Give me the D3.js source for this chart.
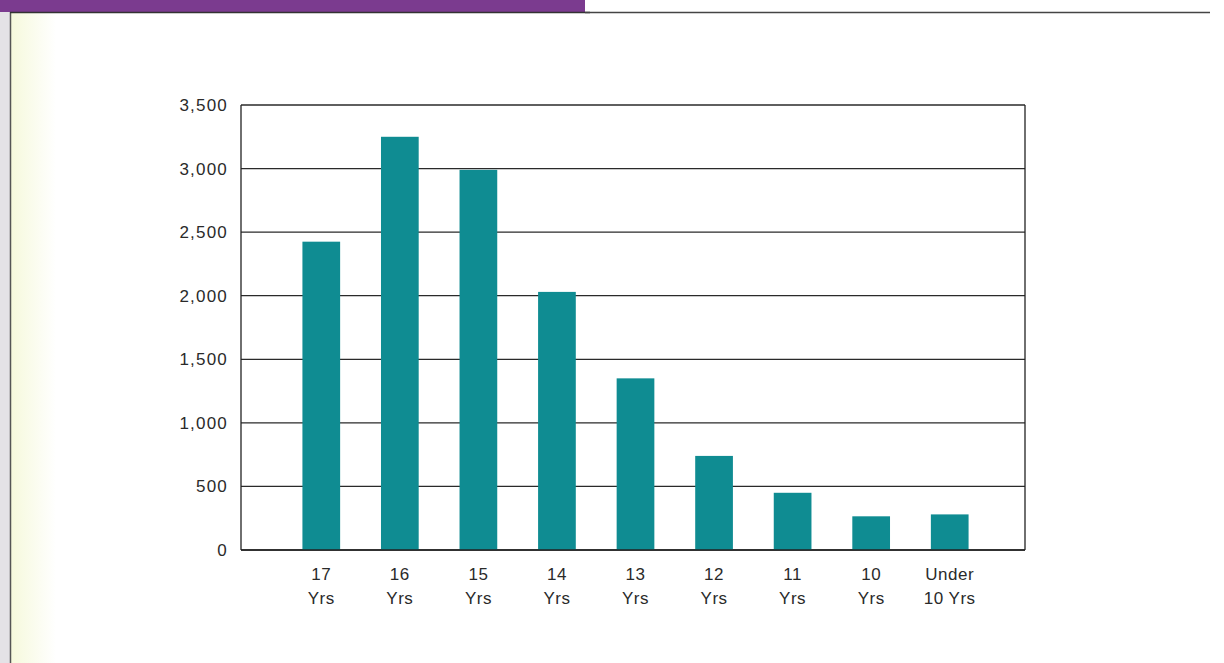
<!DOCTYPE html>
<html>
<head>
<meta charset="utf-8">
<script src="https://cdn.jsdelivr.net/npm/d3@7"></script>
<style>
  html, body { margin: 0; padding: 0; background: #ffffff; }
  svg { display: block; }
</style>
</head>
<body>
<svg id="chart" width="1224" height="663"></svg>
<script>
const categories = ["17 Yrs", "16 Yrs", "15 Yrs", "14 Yrs", "13 Yrs", "12 Yrs", "11 Yrs", "10 Yrs", "Under 10 Yrs"];
const categoryLines = [["17", "Yrs"], ["16", "Yrs"], ["15", "Yrs"], ["14", "Yrs"], ["13", "Yrs"], ["12", "Yrs"], ["11", "Yrs"], ["10", "Yrs"], ["Under", "10 Yrs"]];
const values = [2425, 3250, 2990, 2030, 1350, 740, 450, 265, 280];
const yTicks = [0, 500, 1000, 1500, 2000, 2500, 3000, 3500];

(function () {
const svg = d3.select("#chart");
const W = 1224, H = 663;
const FONT = "'Liberation Sans', Arial, Helvetica, sans-serif";

// page decoration
const defs = svg.append("defs");
const grad = defs.append("linearGradient").attr("id", "tint").attr("x1", 0).attr("x2", 1).attr("y1", 0).attr("y2", 0);
grad.append("stop").attr("offset", 0).attr("stop-color", "#f6f9dc");
grad.append("stop").attr("offset", 1).attr("stop-color", "#ffffff");
svg.append("rect").attr("x", 0).attr("y", 0).attr("width", W).attr("height", H).attr("fill", "#ffffff");
svg.append("rect").attr("x", 0).attr("y", 0).attr("width", 10).attr("height", H).attr("fill", "#e4e2e6");
svg.append("rect").attr("x", 11).attr("y", 12).attr("width", 45).attr("height", H - 12).attr("fill", "url(#tint)");
svg.append("line").attr("x1", 10.5).attr("x2", 10.5).attr("y1", 0).attr("y2", H).attr("stroke", "#555").attr("stroke-width", 1.5);
svg.append("rect").attr("x", 0).attr("y", 0).attr("width", 585).attr("height", 12).attr("fill", "#7b3b8f");
svg.append("line").attr("x1", 10).attr("x2", 590).attr("y1", 12.5).attr("y2", 12.5).attr("stroke", "#333").attr("stroke-width", 1.5);
svg.append("line").attr("x1", 585).attr("x2", 1210).attr("y1", 12.5).attr("y2", 12.5).attr("stroke", "#444").attr("stroke-width", 1.3);

// plot
const pLeft = 241, pRight = 1025, pTop = 105, pBottom = 550;
const y = d3.scaleLinear().domain([0, 3500]).range([pBottom, pTop]);
const x = d3.scaleBand().domain(categories).range([282, 989]).paddingInner(0.52).paddingOuter(0.26);

const g = svg.append("g");

// gridlines
g.selectAll("line.grid").data(yTicks).join("line")
  .attr("class", "grid")
  .attr("x1", pLeft).attr("x2", pRight)
  .attr("y1", d => y(d)).attr("y2", d => y(d))
  .attr("stroke", "#2a2a2a").attr("stroke-width", 1.3);

// bars
g.selectAll("rect.bar").data(values).join("rect")
  .attr("class", "bar")
  .attr("x", (d, i) => x(categories[i]))
  .attr("width", x.bandwidth())
  .attr("y", d => y(d))
  .attr("height", d => y(0) - y(d))
  .attr("fill", "#0f8c92");

// frame
g.append("line").attr("x1", pLeft).attr("x2", pLeft).attr("y1", pTop).attr("y2", pBottom).attr("stroke", "#222").attr("stroke-width", 1.3);
g.append("line").attr("x1", pRight).attr("x2", pRight).attr("y1", pTop).attr("y2", pBottom).attr("stroke", "#222").attr("stroke-width", 1.3);
g.append("line").attr("x1", pLeft).attr("x2", pRight).attr("y1", pBottom).attr("y2", pBottom).attr("stroke", "#222").attr("stroke-width", 1.7);

// y axis labels
const yAxis = d3.axisLeft(y).tickValues(yTicks).tickSize(0).tickPadding(13).tickFormat(d3.format(","));
const ya = svg.append("g").attr("transform", `translate(${pLeft},0)`).call(yAxis);
ya.select(".domain").remove();
ya.selectAll("text")
  .attr("font-family", FONT)
  .attr("font-size", 17).attr("letter-spacing", 1.2).attr("fill", "#2a2a2a");

// x axis labels (two lines)
const xa = svg.append("g").attr("transform", `translate(0,${pBottom})`);
xa.selectAll("text").data(categories).join("text")
  .attr("x", d => x(d) + x.bandwidth() / 2)
  .attr("y", 30)
  .attr("text-anchor", "middle")
  .attr("font-family", FONT)
  .attr("font-size", 17).attr("letter-spacing", 0.5).attr("fill", "#2a2a2a")
  .each(function(d, i) {
    const t = d3.select(this);
    categoryLines[i].forEach((ln, j) => {
      t.append("tspan").attr("x", x(d) + x.bandwidth() / 2).attr("dy", j === 0 ? 0 : 24).text(ln);
    });
  });
})();
</script>
</body>
</html>
